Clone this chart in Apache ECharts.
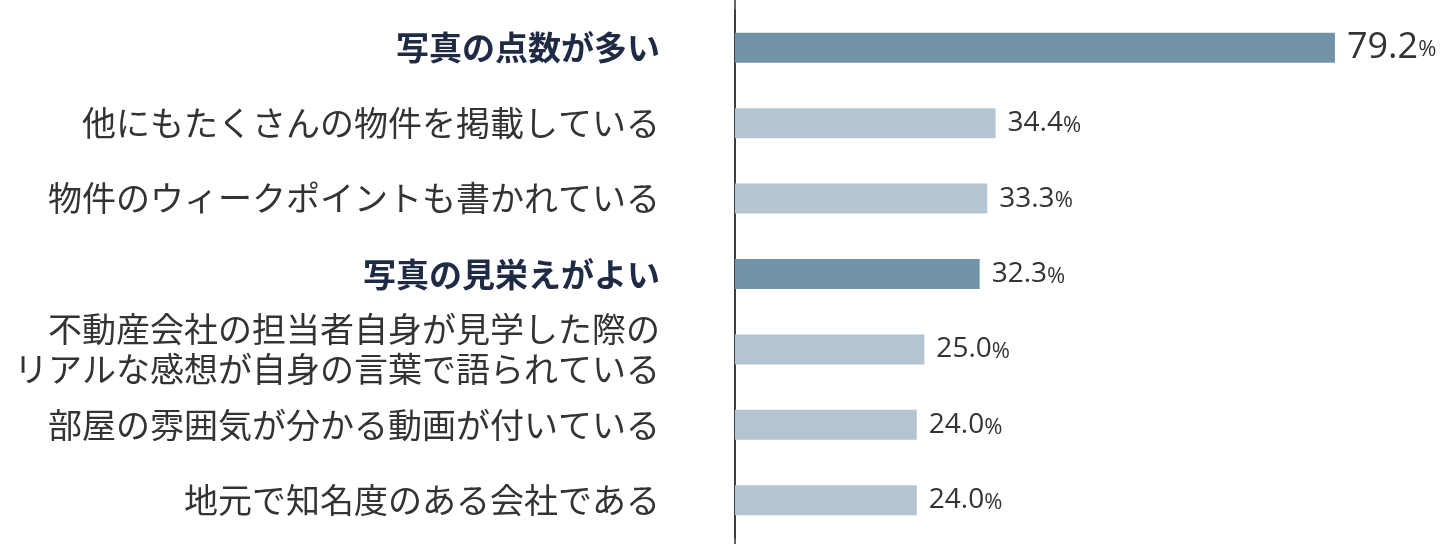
<!DOCTYPE html>
<html><head><meta charset="utf-8">
<script src="https://cdn.jsdelivr.net/npm/echarts@6/dist/echarts.min.js"></script>
<style>html,body{margin:0;padding:0;background:#fff}#c{width:1444px;height:544px}</style>
</head><body><div id="c"></div>
<script>
var categories = [
  '写真の点数が多い',
  '他にもたくさんの物件を掲載している',
  '物件のウィークポイントも書かれている',
  '写真の見栄えがよい',
  '不動産会社の担当者自身が見学した際の\nリアルな感想が自身の言葉で語られている',
  '部屋の雰囲気が分かる動画が付いている',
  '地元で知名度のある会社である'
];
var values = [79.2, 34.4, 33.3, 32.3, 25.0, 24.0, 24.0];
var highlighted = [true, false, false, true, false, false, false];

var chart = echarts.init(document.getElementById('c'));
var font = '"Noto Sans CJK JP", "Noto Sans", sans-serif';
chart.setOption({
  animation: false,
  grid: {left: 735, right: 0, top: 10, bottom: 6},
  xAxis: {type: 'value', min: 0, max: 93.6, show: false},
  yAxis: {
    type: 'category', data: categories, inverse: true,
    axisLine: {show: true, lineStyle: {color: '#333', width: 1.5}},
    axisTick: {show: false},
    axisLabel: {
      margin: 75, fontFamily: font, fontSize: 34, lineHeight: 40, color: '#333',
      formatter: function (v, i) { return highlighted[i] ? '{b|' + v + '}' : v; },
      rich: {b: {fontFamily: font, fontSize: 33, fontWeight: 'bold', color: '#1f2a44'}}
    }
  },
  graphic: [{type: 'line', shape: {x1: 735, y1: 0, x2: 735, y2: 544}, style: {stroke: '#333', lineWidth: 1.5}}],
  series: [{
    type: 'bar', barWidth: 30,
    data: values.map(function (v, i) {
      return {value: v, itemStyle: {color: highlighted[i] ? '#7292a7' : '#b4c4d0'}};
    }),
    label: {
      show: true, position: 'right', distance: 12,
      formatter: function (p) {
        return (p.dataIndex === 0 ? '{n|' : '{s|') + p.value.toFixed(1) + '}{p|%}';
      },
      rich: {
        n: {fontFamily: '"Open Sans", sans-serif', fontSize: 36, color: '#333'},
        s: {fontFamily: '"Open Sans", sans-serif', fontSize: 28, color: '#333'},
        p: {fontFamily: '"Open Sans", sans-serif', fontSize: 22, color: '#333', padding: [5, 0, 0, 0]}
      }
    }
  }]
});
</script></body></html>
